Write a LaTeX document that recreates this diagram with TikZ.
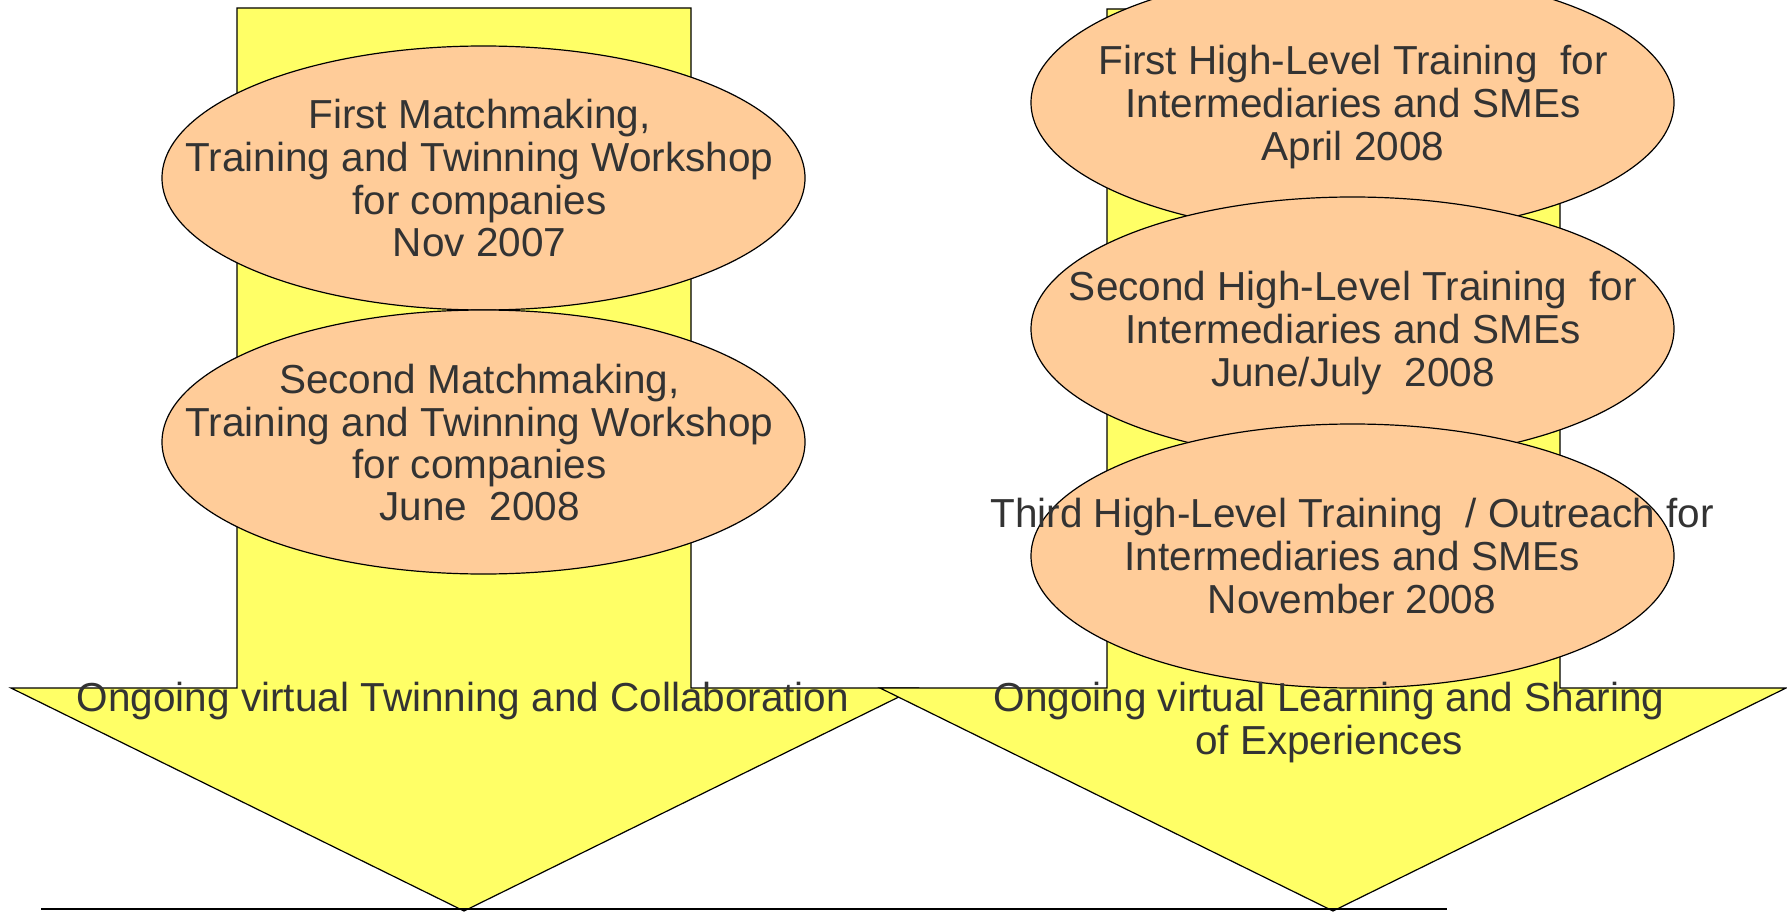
\documentclass[tikz,border=0pt]{standalone}
\usepackage{fontspec}
\setmainfont{Liberation Sans}
\usetikzlibrary{shapes.geometric}
\definecolor{arrowyellow}{HTML}{FFFF66}
\definecolor{peach}{HTML}{FFCC99}
\definecolor{txt}{HTML}{333333}
\begin{document}
\begin{tikzpicture}[x=1pt,y=-1pt,
  bigarrow/.style={fill=arrowyellow,draw=black,line width=1.2pt,line join=miter},
  ell/.style={ellipse,draw=black,fill=peach,line width=1.2pt,inner sep=0pt,minimum width=643pt,minimum height=264pt},
  lbl/.style={text=txt,align=center,font=\fontsize{40.5}{41.7}\selectfont,inner sep=0pt}]
\useasboundingbox (0,0) rectangle (1787,912);
% left arrow
\draw[bigarrow] (237,8) -- (691,8) -- (691,688) -- (917,688) -- (464,911) -- (11,688) -- (237,688) -- cycle;
\node[ell] (m1) at (483.5,178) {};
\node[ell] (m2) at (483.5,442) {};
% right arrow
\draw[bigarrow] (1107,9) -- (1560,9) -- (1560,688) -- (1786,688) -- (1333,911) -- (880,688) -- (1107,688) -- cycle;
\node[ell] (h1) at (1352.5,102.6) {};
\node[ell] (h2) at (1352.5,329) {};
\node[ell] (h3) at (1352.5,556) {};
% texts
\node[lbl] (t1) at (479.5,184) {\strut First Matchmaking,\\\strut Training and Twinning Workshop\\\strut for companies\\\strut Nov 2007};
\node[lbl] (t2) at (479.5,448.5) {\strut Second Matchmaking,\\\strut Training and Twinning Workshop\\\strut for companies\\\strut June~ 2008};
\node[lbl] (t3) at (1353,109) {\strut First High-Level Training~ for\\\strut Intermediaries and SMEs\\\strut April 2008};
\node[lbl] (t4) at (1353,335) {\strut Second High-Level Training~ for\\\strut Intermediaries and SMEs\\\strut June/July~ 2008};
\node[lbl] (t5) at (1352,562) {\strut Third High-Level Training~ / Outreach for\\\strut Intermediaries and SMEs\\\strut November 2008};
\node[lbl] (a1) at (463,703.5) {\strut Ongoing virtual Twinning and Collaboration};
\node[lbl] (a2) at (1329,725) {\strut Ongoing virtual Learning and Sharing\\\strut of Experiences};
% base line
\coordinate (bl) at (41,909);
\coordinate (br) at (1447,909);
\draw[line width=2.5pt] (bl) -- (br);
\end{tikzpicture}
\end{document}
